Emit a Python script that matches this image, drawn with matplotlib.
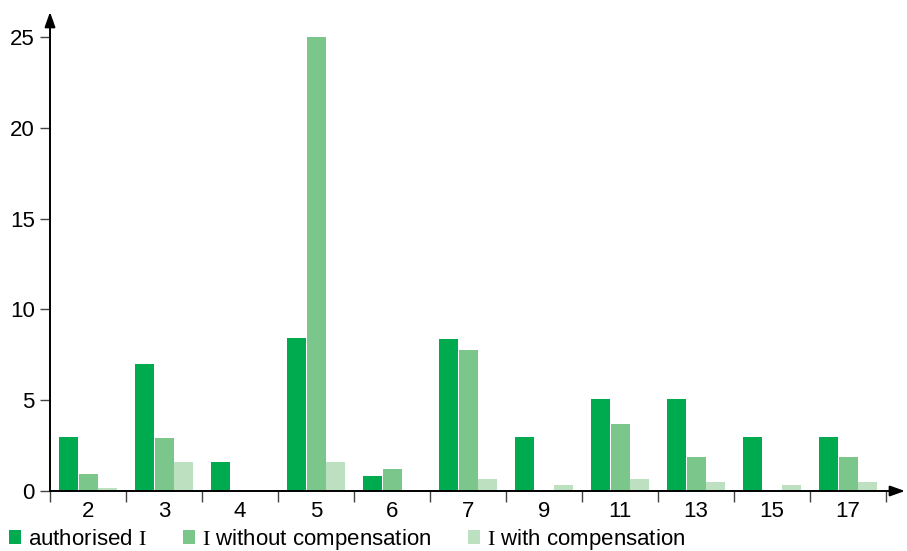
import numpy as np
import matplotlib.pyplot as plt
from matplotlib.patches import Patch

plt.rcParams['font.family'] = ['Liberation Sans', 'DejaVu Sans']
plt.rcParams['mathtext.fontset'] = 'custom'
plt.rcParams['mathtext.rm'] = 'Liberation Serif'

categories = ['2', '3', '4', '5', '6', '7', '9', '11', '13', '15', '17']
authorised = [3.0, 7.0, 1.6, 8.4, 0.83, 8.35, 3.0, 5.05, 5.05, 3.0, 3.0]
without_comp = [0.94, 2.9, 0.0, 25.0, 1.22, 7.75, 0.0, 3.68, 1.85, 0.0, 1.85]
with_comp = [0.16, 1.6, 0.0, 1.6, 0.0, 0.66, 0.33, 0.66, 0.5, 0.33, 0.5]
yticks = [0, 5, 10, 15, 20, 25]

series = [
    (authorised, '#00aa4e', r'authorised $\mathrm{I}$'),
    (without_comp, '#7ac68b', r'$\mathrm{I}$ without compensation'),
    (with_comp, '#bde0c1', r'$\mathrm{I}$ with compensation'),
]

W, H = 907, 551
fig = plt.figure(figsize=(W / 100, H / 100), dpi=100)
left, right, bottom, top = 50, 905, 491, 12
ax = fig.add_axes([left / W, 1 - bottom / H, (right - left) / W, (bottom - top) / H])

cat_px = 76.0
n = len(categories)
ax.set_xlim(0, (right - left) / cat_px)
ax.set_ylim(0, (bottom - top) / 18.16)

x = np.arange(n) + 0.5
step = 0.262
for i, (vals, color, label) in enumerate(series):
    ax.bar(x + (i - 1) * step, vals, width=0.25, color=color, label=label, linewidth=0)

for s in ax.spines.values():
    s.set_visible(False)

# axes with arrows
arrow = dict(arrowstyle='-|>,head_length=0.9,head_width=0.32', color='black', lw=1.4,
             shrinkA=0, shrinkB=0)
ax.annotate('', xy=(1, 0), xytext=(0, 0), xycoords='axes fraction', arrowprops=arrow)
ax.annotate('', xy=(0, 1), xytext=(0, 0), xycoords='axes fraction', arrowprops=arrow)

ax.set_yticks(yticks)
ax.set_yticklabels([str(t) for t in yticks], fontsize=16)
ax.tick_params(axis='y', length=7, width=1, color='#444444', pad=4)

ax.set_xticks(np.arange(n + 1))
ax.set_xticklabels([])
ax.tick_params(axis='x', which='major', length=8, width=1, color='#444444')
ax.set_xticks(x, minor=True)
ax.set_xticklabels(categories, minor=True, fontsize=16)
ax.tick_params(axis='x', which='minor', length=0, pad=7)

handles = [Patch(facecolor=c, label=l) for _, c, l in series]
fig.legend(handles=handles, loc='lower left', bbox_to_anchor=(0.0, -0.018), ncol=3, frameon=False,
           fontsize=16, handlelength=0.55, handleheight=0.55, handletextpad=0.3,
           columnspacing=1.65, borderaxespad=0.2, borderpad=0.2)

fig.savefig('out.png', dpi=100)
